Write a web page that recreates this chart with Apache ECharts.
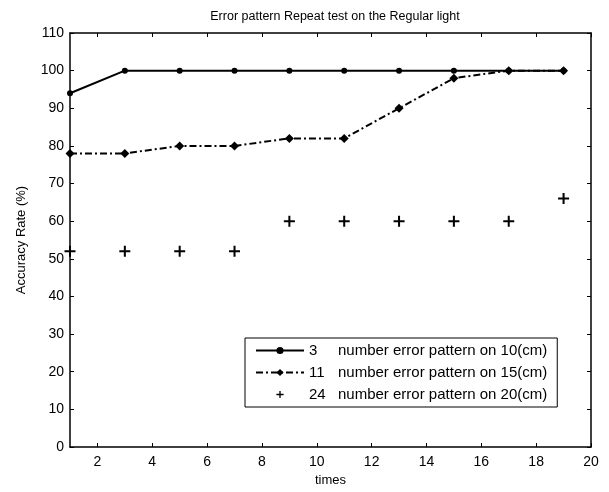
<!DOCTYPE html>
<html><head><meta charset="utf-8">
<script src="https://cdn.jsdelivr.net/npm/echarts@6/dist/echarts.min.js"></script>
<style>html,body{margin:0;padding:0;background:#fff}#c{width:609px;height:492px}</style>
</head><body><div id="c"></div>
<script>
const times = [1,3,5,7,9,11,13,15,17,19];
const s10cm = [94,100,100,100,100,100,100,100,100,100];
const s15cm = [78,78,80,80,82,82,90,98,100,100];
const s20cm = [52,52,52,52,60,60,60,60,60,66];
const xTicks = [2,4,6,8,10,12,14,16,18,20];
const yTicks = [0,10,20,30,40,50,60,70,80,90,100,110];
const names = ['3 number error pattern on 10(cm)','11 number error pattern on 15(cm)','24 number error pattern on 20(cm)'];
const font = 'Liberation Sans, Arial, sans-serif';
const pair = (xs, ys) => xs.map((x,i)=>[x, ys[i]]);
const plus = 'path://M-1.1,-6H1.1V-1.1H6V1.1H1.1V6H-1.1V1.1H-6V-1.1H-1.1Z';
const axisCommon = {
  axisLine:{show:true,onZero:false,lineStyle:{color:'#000',width:1.5}},
  axisTick:{show:true,inside:true,length:4,lineStyle:{color:'#000',width:1}},
  splitLine:{show:false}
};
const chart = echarts.init(document.getElementById('c'));
chart.setOption({
  animation:false,
  backgroundColor:'#fff',
  title:{text:'Error pattern Repeat test on the Regular light',left:330,textAlign:'center',top:5,
    textStyle:{fontFamily:font,fontSize:12.5,fontWeight:'normal',color:'#000'}},
  grid:{left:70,right:18,top:33,bottom:45},
  xAxis:[
    Object.assign({type:'value',min:1,max:20,position:'bottom',name:'times',nameLocation:'middle',nameGap:27,
      nameTextStyle:{fontFamily:font,fontSize:13,color:'#000'},
      axisLabel:{customValues:xTicks,fontFamily:font,fontSize:14,color:'#000',margin:8},
    },axisCommon,{axisTick:Object.assign({},axisCommon.axisTick,{customValues:xTicks})}),
    Object.assign({type:'value',min:1,max:20,position:'top',axisLabel:{show:false}},axisCommon,
      {axisTick:Object.assign({},axisCommon.axisTick,{customValues:xTicks})})
  ],
  yAxis:[
    Object.assign({type:'value',min:0,max:110,interval:10,position:'left',name:'Accuracy Rate (%)',nameLocation:'middle',nameGap:42,
      nameTextStyle:{fontFamily:font,fontSize:13,color:'#000'},
      axisLabel:{fontFamily:font,fontSize:14,color:'#000',margin:6}},axisCommon),
    Object.assign({type:'value',min:0,max:110,interval:10,position:'right',axisLabel:{show:false}},axisCommon)
  ],
  legend:{
    left:245,top:338,orient:'vertical',itemGap:7,itemWidth:48,itemHeight:9,
    padding:[5,10,5,10],borderColor:'#000',borderWidth:1,backgroundColor:'#fff',
    data:names,
    formatter:function(n){const p=n.split(' ');return '{a|'+p[0]+'}{b|'+p.slice(1).join(' ')+'}';},
    textStyle:{fontFamily:font,fontSize:15,color:'#000',
      rich:{a:{width:29,fontFamily:font,fontSize:15,color:'#000'},b:{fontFamily:font,fontSize:15,color:'#000'}}}
  },
  series:[
    {name:names[0],type:'line',data:pair(times,s10cm),symbol:'circle',symbolSize:6,
      lineStyle:{color:'#000',width:2},itemStyle:{color:'#000'}},
    {name:names[1],type:'line',data:pair(times,s15cm),symbol:'diamond',symbolSize:9,
      lineStyle:{color:'#000',width:2,type:[7,3,2,3]},itemStyle:{color:'#000'}},
    {name:names[2],type:'line',data:pair(times,s20cm),symbol:plus,symbolSize:11,
      lineStyle:{width:0,opacity:0},itemStyle:{color:'#000'}}
  ]
});
</script></body></html>
